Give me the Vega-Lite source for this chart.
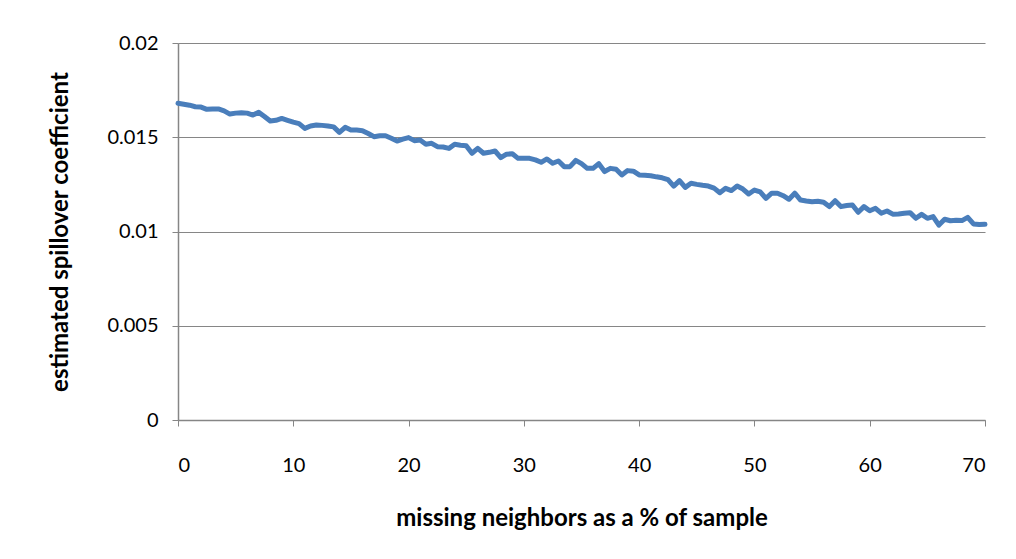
{
  "$schema": "https://vega.github.io/schema/vega-lite/v6.json",
  "autosize": {"type": "none"},
  "width": 807,
  "height": 377,
  "padding": {"left": 178, "top": 43, "right": 31, "bottom": 139},
  "background": "white",
  "config": {
    "view": {"stroke": null},
    "font": "Lato",
    "axis": {
      "domainColor": "#868686",
      "gridColor": "#868686",
      "tickColor": "#868686",
      "labelColor": "#000000",
      "titleColor": "#000000",
      "labelFont": "Lato",
      "titleFont": "Lato",
      "labelFontSize": 20,
      "titleFontSize": 24,
      "titleFontWeight": "bold",
      "tickSize": 6,
      "domainWidth": 1.5,
      "gridWidth": 1.2
    }
  },
  "data": {
    "values": [
      {"pct": 0, "coef": 0.0168}, {"pct": 0.5, "coef": 0.01675}, {"pct": 1, "coef": 0.0167}, {"pct": 1.5, "coef": 0.01662},
      {"pct": 2, "coef": 0.0166}, {"pct": 2.5, "coef": 0.01648}, {"pct": 3, "coef": 0.0165}, {"pct": 3.5, "coef": 0.0165},
      {"pct": 4, "coef": 0.0164}, {"pct": 4.5, "coef": 0.01623}, {"pct": 5, "coef": 0.01628}, {"pct": 5.5, "coef": 0.0163},
      {"pct": 6, "coef": 0.01628}, {"pct": 6.5, "coef": 0.01618}, {"pct": 7, "coef": 0.01632}, {"pct": 7.5, "coef": 0.0161},
      {"pct": 8, "coef": 0.01586}, {"pct": 8.5, "coef": 0.0159}, {"pct": 9, "coef": 0.016}, {"pct": 9.5, "coef": 0.0159},
      {"pct": 10, "coef": 0.0158}, {"pct": 10.5, "coef": 0.01572}, {"pct": 11, "coef": 0.01547}, {"pct": 11.5, "coef": 0.0156},
      {"pct": 12, "coef": 0.01565}, {"pct": 12.5, "coef": 0.01563}, {"pct": 13, "coef": 0.0156}, {"pct": 13.5, "coef": 0.01555},
      {"pct": 14, "coef": 0.01526}, {"pct": 14.5, "coef": 0.01553}, {"pct": 15, "coef": 0.01538}, {"pct": 15.5, "coef": 0.01538},
      {"pct": 16, "coef": 0.01535}, {"pct": 16.5, "coef": 0.0152}, {"pct": 17, "coef": 0.01503}, {"pct": 17.5, "coef": 0.01508},
      {"pct": 18, "coef": 0.01508}, {"pct": 18.5, "coef": 0.01495}, {"pct": 19, "coef": 0.0148}, {"pct": 19.5, "coef": 0.0149},
      {"pct": 20, "coef": 0.01498}, {"pct": 20.5, "coef": 0.01482}, {"pct": 21, "coef": 0.01485}, {"pct": 21.5, "coef": 0.01463},
      {"pct": 22, "coef": 0.01468}, {"pct": 22.5, "coef": 0.0145}, {"pct": 23, "coef": 0.01448}, {"pct": 23.5, "coef": 0.01441},
      {"pct": 24, "coef": 0.01463}, {"pct": 24.5, "coef": 0.01458}, {"pct": 25, "coef": 0.01455}, {"pct": 25.5, "coef": 0.01415},
      {"pct": 26, "coef": 0.01441}, {"pct": 26.5, "coef": 0.01415}, {"pct": 27, "coef": 0.0142}, {"pct": 27.5, "coef": 0.01427},
      {"pct": 28, "coef": 0.01392}, {"pct": 28.5, "coef": 0.0141}, {"pct": 29, "coef": 0.01412}, {"pct": 29.5, "coef": 0.01388},
      {"pct": 30, "coef": 0.01388}, {"pct": 30.5, "coef": 0.01388}, {"pct": 31, "coef": 0.0138}, {"pct": 31.5, "coef": 0.01367},
      {"pct": 32, "coef": 0.01385}, {"pct": 32.5, "coef": 0.01362}, {"pct": 33, "coef": 0.01374}, {"pct": 33.5, "coef": 0.01344},
      {"pct": 34, "coef": 0.01344}, {"pct": 34.5, "coef": 0.01377}, {"pct": 35, "coef": 0.0136}, {"pct": 35.5, "coef": 0.01335},
      {"pct": 36, "coef": 0.01335}, {"pct": 36.5, "coef": 0.0136}, {"pct": 37, "coef": 0.01318}, {"pct": 37.5, "coef": 0.01335},
      {"pct": 38, "coef": 0.0133}, {"pct": 38.5, "coef": 0.013}, {"pct": 39, "coef": 0.01323}, {"pct": 39.5, "coef": 0.0132},
      {"pct": 40, "coef": 0.013}, {"pct": 40.5, "coef": 0.01298}, {"pct": 41, "coef": 0.01296}, {"pct": 41.5, "coef": 0.0129},
      {"pct": 42, "coef": 0.01285}, {"pct": 42.5, "coef": 0.01275}, {"pct": 43, "coef": 0.01241}, {"pct": 43.5, "coef": 0.0127},
      {"pct": 44, "coef": 0.01234}, {"pct": 44.5, "coef": 0.01256}, {"pct": 45, "coef": 0.0125}, {"pct": 45.5, "coef": 0.01245},
      {"pct": 46, "coef": 0.01241}, {"pct": 46.5, "coef": 0.0123}, {"pct": 47, "coef": 0.01206}, {"pct": 47.5, "coef": 0.01229},
      {"pct": 48, "coef": 0.01217}, {"pct": 48.5, "coef": 0.01241}, {"pct": 49, "coef": 0.01225}, {"pct": 49.5, "coef": 0.01199},
      {"pct": 50, "coef": 0.0122}, {"pct": 50.5, "coef": 0.0121}, {"pct": 51, "coef": 0.01176}, {"pct": 51.5, "coef": 0.01203},
      {"pct": 52, "coef": 0.01203}, {"pct": 52.5, "coef": 0.0119}, {"pct": 53, "coef": 0.01171}, {"pct": 53.5, "coef": 0.01203},
      {"pct": 54, "coef": 0.01167}, {"pct": 54.5, "coef": 0.01162}, {"pct": 55, "coef": 0.01158}, {"pct": 55.5, "coef": 0.0116},
      {"pct": 56, "coef": 0.01155}, {"pct": 56.5, "coef": 0.01132}, {"pct": 57, "coef": 0.01163}, {"pct": 57.5, "coef": 0.01132},
      {"pct": 58, "coef": 0.01138}, {"pct": 58.5, "coef": 0.01141}, {"pct": 59, "coef": 0.01102}, {"pct": 59.5, "coef": 0.01132},
      {"pct": 60, "coef": 0.0111}, {"pct": 60.5, "coef": 0.01123}, {"pct": 61, "coef": 0.01097}, {"pct": 61.5, "coef": 0.01109},
      {"pct": 62, "coef": 0.01092}, {"pct": 62.5, "coef": 0.01093}, {"pct": 63, "coef": 0.01097}, {"pct": 63.5, "coef": 0.011},
      {"pct": 64, "coef": 0.0107}, {"pct": 64.5, "coef": 0.01091}, {"pct": 65, "coef": 0.0107}, {"pct": 65.5, "coef": 0.01079},
      {"pct": 66, "coef": 0.01034}, {"pct": 66.5, "coef": 0.01065}, {"pct": 67, "coef": 0.01057}, {"pct": 67.5, "coef": 0.0106},
      {"pct": 68, "coef": 0.01058}, {"pct": 68.5, "coef": 0.01075}, {"pct": 69, "coef": 0.0104}, {"pct": 69.5, "coef": 0.01037},
      {"pct": 70, "coef": 0.01038}
    ]
  },
  "mark": {"type": "line", "color": "#4A7EBB", "strokeWidth": 5, "strokeJoin": "round", "strokeCap": "round"},
  "encoding": {
    "x": {
      "field": "pct",
      "type": "quantitative",
      "scale": {"domain": [0, 70], "nice": false, "zero": false},
      "axis": {
        "values": [0, 10, 20, 30, 40, 50, 60, 70],
        "grid": false,
        "labelPadding": 29,
        "labelBaseline": "top",
        "title": "missing neighbors as a % of sample",
        "titleY": 98,
        "titleBaseline": "middle",
        "titleAnchor": "middle"
      }
    },
    "y": {
      "field": "coef",
      "type": "quantitative",
      "scale": {"domain": [0, 0.02], "nice": false},
      "axis": {
        "values": [0, 0.005, 0.01, 0.015, 0.02],
        "format": "~g",
        "grid": true,
        "labelPadding": 14,
        "title": "estimated spillover coefficient",
        "titleAngle": -90,
        "titleX": -118,
        "titleY": 188.5,
        "titleAnchor": "middle",
        "titleAlign": "center",
        "titleBaseline": "middle"
      }
    }
  }
}
